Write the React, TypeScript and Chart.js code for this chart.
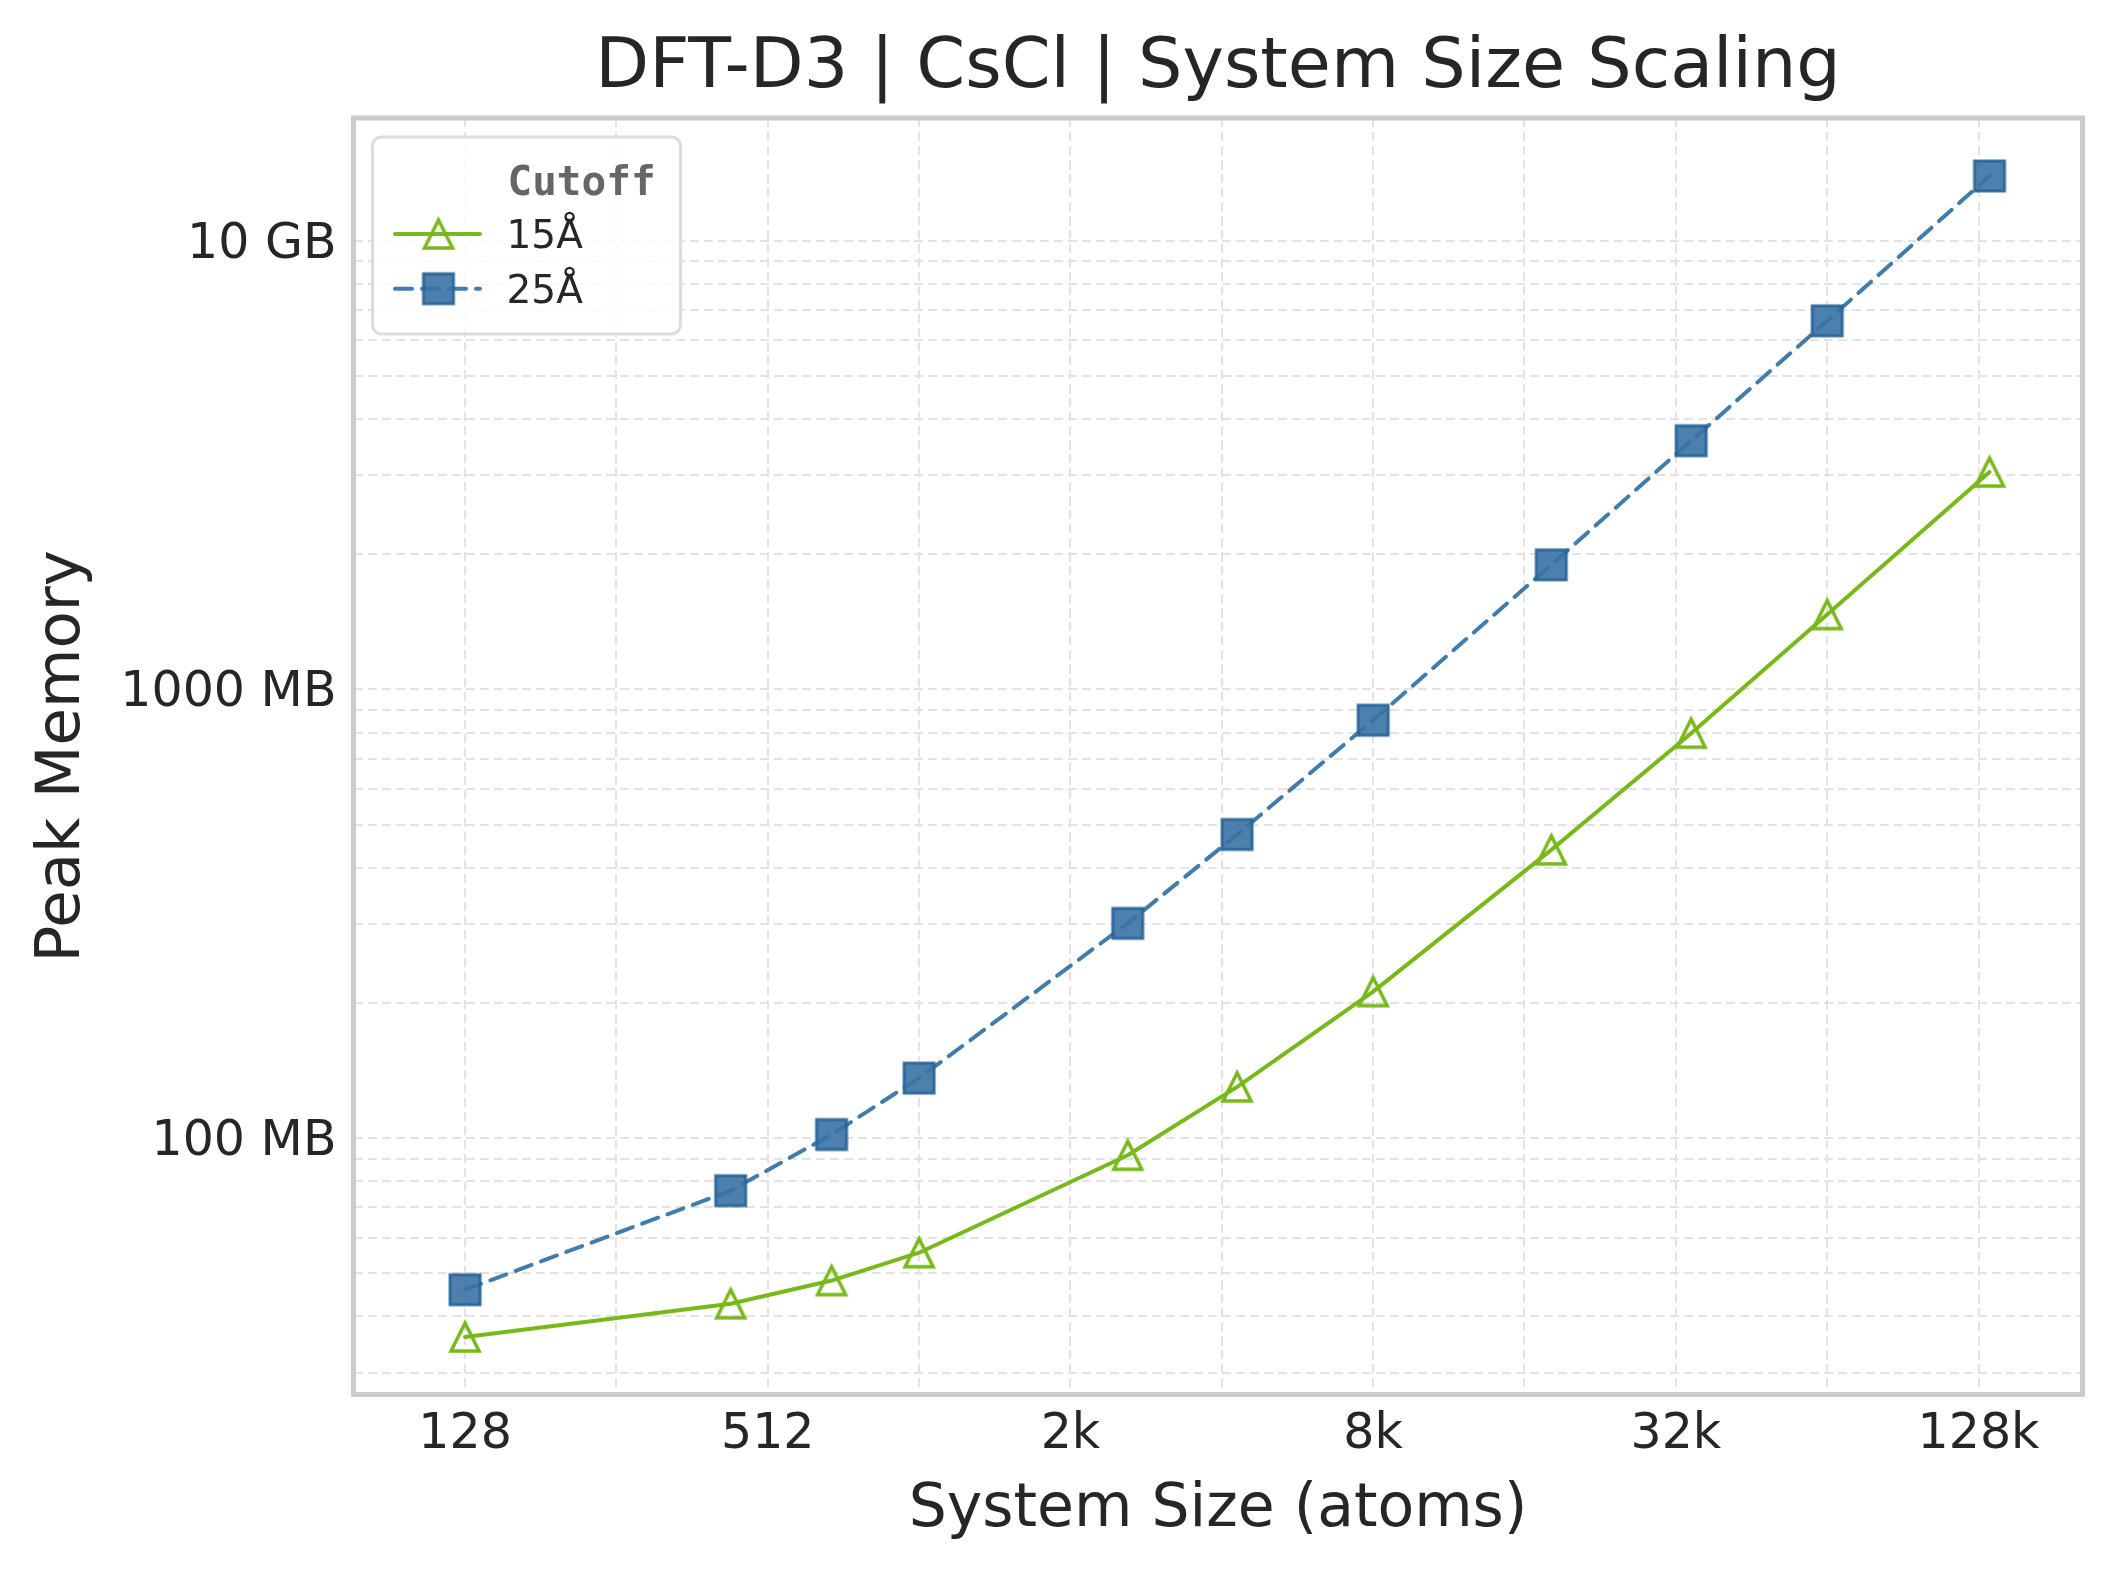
import { useEffect, useRef } from "react";
import { Chart, registerables } from "chart.js";

Chart.register(...registerables);

// system sizes (atoms) and peak memory (MB) per cutoff
const SIZES = [128, 432, 686, 1024, 2662, 4394, 8192, 18522, 35152, 65536, 137842];
const MEM_15 = [36.0, 42.7, 48.1, 55.5, 91.5, 130, 212, 439, 799, 1469, 3054];
const MEM_25 = [45.9, 76.3, 101.8, 136, 301, 475, 854, 1896, 3586, 6637, 13960];
const SERIES_LABELS = ["15Å", "25Å"];
const LEGEND_TITLE = "Cutoff";

const X_GRID = [128, 256, 512, 1024, 2048, 4096, 8192, 16384, 32768, 65536, 131072];
const X_TICKS = [128, 512, 2048, 8192, 32768, 131072];
const X_TICK_LABELS = ["128", "512", "2k", "8k", "32k", "128k"];
const Y_TICKS = [100, 1000, 10000];
const Y_TICK_LABELS = ["100 MB", "1000 MB", "10 GB"];

const TEXT = "#262626";
const GREEN = "#78b81a";
const BLUE = "#417daa";
const GRID = "#e3e3e3";

const W = 2118;
const H = 1574;

function makeTriangle(color: string) {
  const c = document.createElement("canvas");
  c.width = 44;
  c.height = 44;
  const g = c.getContext("2d")!;
  g.translate(22, 22);
  g.beginPath();
  g.moveTo(0, -14);
  g.lineTo(-14, 14);
  g.lineTo(14, 14);
  g.closePath();
  g.lineWidth = 3.5;
  g.lineJoin = "miter";
  g.strokeStyle = color;
  g.stroke();
  return c;
}

function makeSquare() {
  const c = document.createElement("canvas");
  c.width = 40;
  c.height = 40;
  const g = c.getContext("2d")!;
  g.fillStyle = "rgba(58,114,164,0.9)";
  g.fillRect(5, 5, 30, 30);
  g.lineWidth = 3;
  g.strokeStyle = "rgba(40,100,150,0.9)";
  g.strokeRect(5, 5, 30, 30);
  return c;
}

// minor grid for the log y axis: 1..9 x each decade
function yGrid(min: number, max: number) {
  const out: number[] = [];
  for (let d = 10; d <= 10000; d *= 10) {
    for (let m = 1; m <= 9; m++) {
      const v = d * m;
      if (v >= min && v <= max) out.push(v);
    }
  }
  return out;
}

const framePlugin = {
  id: "frame",
  afterDatasetsDraw(chart: any) {
    const { ctx, chartArea: a } = chart;
    ctx.save();
    ctx.lineWidth = 5;
    ctx.strokeStyle = "#cccccc";
    ctx.strokeRect(a.left, a.top, a.right - a.left, a.bottom - a.top);
    ctx.restore();
  },
};

const legendPlugin = {
  id: "cutoffLegend",
  afterDraw(chart: any) {
    const { ctx, chartArea: a } = chart;
    const x0 = a.left + 19;
    const y0 = a.top + 19;
    ctx.save();
    ctx.beginPath();
    ctx.roundRect(x0, y0, 308, 197, 9);
    ctx.fillStyle = "rgba(255,255,255,0.8)";
    ctx.fill();
    ctx.lineWidth = 3;
    ctx.strokeStyle = "#dcdcdc";
    ctx.stroke();

    ctx.textAlign = "left";
    ctx.textBaseline = "alphabetic";
    ctx.fillStyle = "#666666";
    ctx.font = 'bold 41px "DejaVu Sans Mono"';
    ctx.fillText(LEGEND_TITLE, x0 + 135, y0 + 58);

    chart.data.datasets.forEach((ds: any, i: number) => {
      const cy = y0 + 97 + i * 54.7;
      ctx.beginPath();
      ctx.setLineDash(ds.borderDash || []);
      ctx.lineWidth = ds.borderWidth;
      ctx.strokeStyle = ds.borderColor;
      ctx.lineCap = "round";
      ctx.moveTo(x0 + 22.5, cy);
      ctx.lineTo(x0 + 107.5, cy);
      ctx.stroke();
      ctx.setLineDash([]);
      const img = ds.pointStyle as HTMLCanvasElement;
      ctx.drawImage(img, x0 + 66 - img.width / 2, cy - img.height / 2);
      ctx.fillStyle = TEXT;
      ctx.font = '39px "DejaVu Sans"';
      ctx.fillText(ds.label, x0 + 134, cy + 14);
    });
    ctx.restore();
  },
};

export default function App() {
  const canvasRef = useRef<HTMLCanvasElement | null>(null);

  useEffect(() => {
    const ctx = canvasRef.current!.getContext("2d")!;
    const tri = makeTriangle(GREEN);
    const sq = makeSquare();
    const yMin = 26.8;
    const yMax = 18800;

    const chart = new Chart(ctx, {
      type: "line",
      data: {
        datasets: [
          {
            label: SERIES_LABELS[0],
            data: SIZES.map((x, i) => ({ x, y: MEM_15[i] })),
            borderColor: GREEN,
            borderWidth: 4,
            borderCapStyle: "round",
            borderJoinStyle: "round",
            pointStyle: tri,
            pointRadius: 16,
            tension: 0,
            fill: false,
          },
          {
            label: SERIES_LABELS[1],
            data: SIZES.map((x, i) => ({ x, y: MEM_25[i] })),
            borderColor: BLUE,
            borderWidth: 4,
            borderDash: [17, 10],
            borderCapStyle: "round",
            borderJoinStyle: "round",
            pointStyle: sq,
            pointRadius: 16,
            tension: 0,
            fill: false,
          },
        ] as any,
      },
      options: {
        responsive: false,
        animation: false,
        layout: { padding: { left: 0, right: 35.5, top: 0, bottom: 0 } },
        plugins: {
          legend: { display: false },
          tooltip: { enabled: false },
          title: {
            display: true,
            fullSize: false,
            text: "DFT-D3 | CsCl | System Size Scaling",
            color: TEXT,
            font: { family: "DejaVu Sans", size: 70, weight: "normal" },
            padding: { top: 27, bottom: 7 },
          },
        },
        scales: {
          x: {
            type: "logarithmic",
            min: 76.8,
            max: 211000,
            afterBuildTicks: (s: any) => {
              s.ticks = X_GRID.map((v) => ({ value: v }));
            },
            afterFit: (s: any) => {
              s.height = 179.5;
            },
            ticks: {
              autoSkip: false,
              maxRotation: 0,
              minRotation: 0,
              padding: 11,
              color: TEXT,
              font: { family: "DejaVu Sans", size: 49 },
              callback: (v: any) => {
                const i = X_TICKS.indexOf(Number(v));
                return i >= 0 ? X_TICK_LABELS[i] : "";
              },
            },
            grid: { color: GRID, lineWidth: 2, drawTicks: false },
            border: { display: false, dash: [9, 5] },
            title: {
              display: true,
              text: "System Size (atoms)",
              color: TEXT,
              font: { family: "DejaVu Sans", size: 60 },
              padding: { top: 0, bottom: 28 },
            },
          },
          y: {
            type: "logarithmic",
            min: yMin,
            max: yMax,
            afterBuildTicks: (s: any) => {
              s.ticks = yGrid(yMin, yMax).map((v) => ({ value: v }));
            },
            afterFit: (s: any) => {
              s.width = 353.5;
            },
            ticks: {
              autoSkip: false,
              padding: 17,
              color: TEXT,
              // tiny line height + leading blank line nudges labels ~4px down
              font: { family: "DejaVu Sans", size: 49, lineHeight: 0.17 },
              callback: (v: any) => {
                const i = Y_TICKS.indexOf(Number(v));
                return i >= 0 ? ["", Y_TICK_LABELS[i]] : "";
              },
            },
            grid: { color: GRID, lineWidth: 2, drawTicks: false },
            border: { display: false, dash: [9, 5] },
            title: {
              display: true,
              text: "Peak Memory",
              color: TEXT,
              font: { family: "DejaVu Sans", size: 61 },
              padding: { top: 27, bottom: 0 },
            },
          },
        },
      },
      plugins: [framePlugin, legendPlugin],
    } as any);

    return () => chart.destroy();
  }, []);

  return (
    <div style={{ position: "fixed", left: 0, top: 0, width: W, height: H, background: "#ffffff" }}>
      <canvas ref={canvasRef} width={W} height={H} style={{ display: "block" }} />
    </div>
  );
}
